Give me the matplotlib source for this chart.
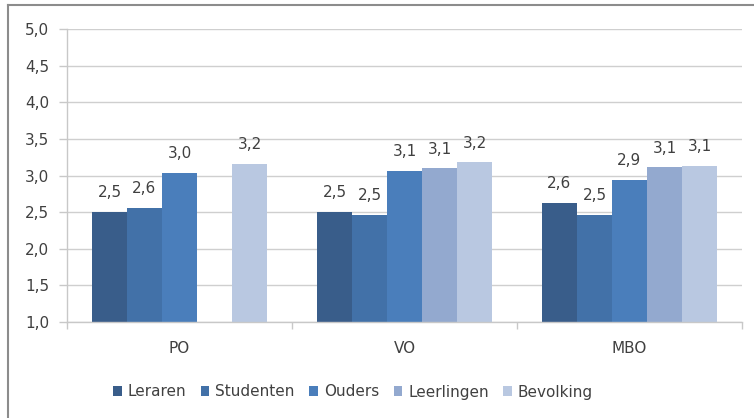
import numpy as np
import matplotlib
matplotlib.use("Agg")
import matplotlib.pyplot as plt
from matplotlib.ticker import FuncFormatter, FixedLocator
from matplotlib.lines import Line2D

# data (None = no bar)
categories = ["PO", "VO", "MBO"]
series = ["Leraren", "Studenten", "Ouders", "Leerlingen", "Bevolking"]
leraren = [2.50, 2.50, 2.63]
studenten = [2.56, 2.46, 2.46]
ouders = [3.04, 3.06, 2.94]
leerlingen = [None, 3.10, 3.11]
bevolking = [3.16, 3.18, 3.13]
colors = ["#395D8A", "#4271A8", "#4A7EBB", "#93A9CF", "#B9C8E1"]

values = [leraren, studenten, ouders, leerlingen, bevolking]

plt.rcParams['font.family'] = ['DejaVu Sans']
text_col = "#404040"
fs = 11

fig = plt.figure(figsize=(7.54, 4.18), dpi=100)
ax = fig.add_axes([67 / 754, 1 - 322 / 418, 675 / 754, 293 / 418])

x = np.arange(len(categories))
w = 0.1556
for i, (name, vals, c) in enumerate(zip(series, values, colors)):
    h = np.array([np.nan if v is None else v for v in vals], dtype=float)
    pos = x + (i - 2) * w
    ax.bar(pos, np.nan_to_num(h - 1.0, nan=0.0), bottom=1.0, width=w,
           color=c, label=name, linewidth=0)
    for px, v in zip(pos, h):
        if not np.isnan(v):
            ax.text(px, v + 0.2, f"{v:.1f}".replace(".", ","), ha="center",
                    va="baseline", fontsize=fs, color=text_col)

ax.set_xlim(-0.5, 2.5)
ax.set_ylim(1.0, 5.0)
ax.set_yticks(np.arange(1.0, 5.01, 0.5))
ax.yaxis.set_major_formatter(FuncFormatter(lambda v, p: f"{v:.1f}".replace(".", ",")))
ax.tick_params(axis="y", direction="out", length=6, width=1, color="#c8c8c8",
               labelsize=fs, labelcolor=text_col, pad=7)
ax.grid(axis="y", color="#cfcfcf", linewidth=1)
ax.set_axisbelow(True)

# category boundaries as major ticks, names as minor ticks
ax.xaxis.set_major_locator(FixedLocator([-0.5, 0.5, 1.5, 2.5]))
ax.xaxis.set_major_formatter(FuncFormatter(lambda v, p: ""))
ax.xaxis.set_minor_locator(FixedLocator(x))
ax.set_xticklabels(categories, minor=True)
ax.tick_params(axis="x", which="major", direction="out", length=5, width=1, color="#c8c8c8")
ax.tick_params(axis="x", which="minor", length=0, pad=14, labelsize=fs, labelcolor=text_col)

for s in ["top", "right"]:
    ax.spines[s].set_visible(False)
for s in ["left", "bottom"]:
    ax.spines[s].set_color("#c8c8c8")
    ax.spines[s].set_linewidth(1)

ax.legend(loc="center", bbox_to_anchor=(353 / 754, 1 - 392 / 418),
          bbox_transform=fig.transFigure, ncol=5, frameon=False, fontsize=fs,
          handlelength=0.55, handleheight=0.55, handletextpad=0.4,
          columnspacing=0.95, labelcolor=text_col)

# outer chart border (only left and top visible in the crop)
fig.add_artist(Line2D([8 / 754, 8 / 754], [0, 1 - 5 / 418], transform=fig.transFigure,
                      color="#8c8c8c", linewidth=1.5))
fig.add_artist(Line2D([8 / 754, 1], [1 - 5 / 418, 1 - 5 / 418], transform=fig.transFigure,
                      color="#8c8c8c", linewidth=1.5))

fig.savefig("out.png", dpi=100)
